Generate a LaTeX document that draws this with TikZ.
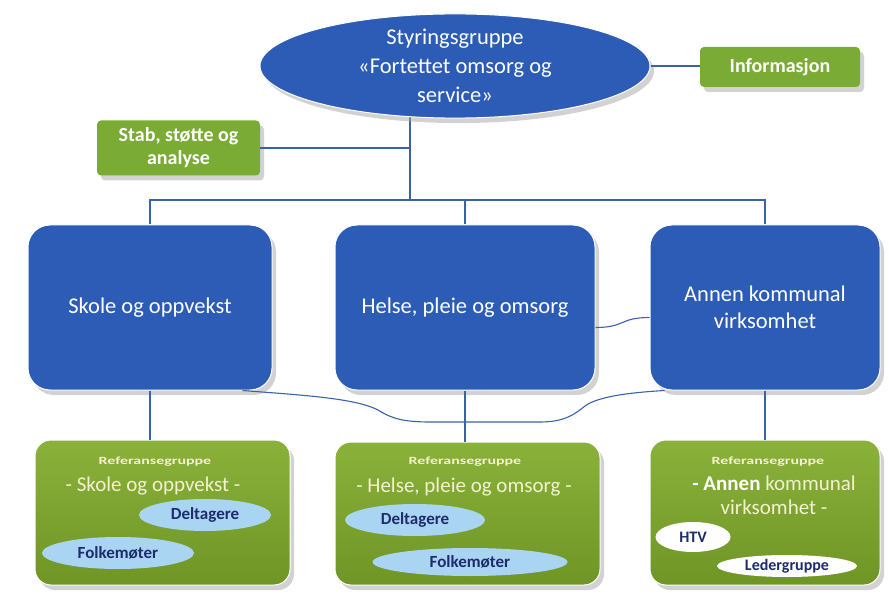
\documentclass[tikz,border=0pt]{standalone}
\usepackage{fontspec}
\setmainfont{Carlito}
\usetikzlibrary{shapes.geometric,shadows,calc,backgrounds}
\definecolor{bluebox}{HTML}{2C5CB6}
\definecolor{linec}{HTML}{3A62A8}
\definecolor{greentop}{HTML}{8AB23A}
\definecolor{greenbot}{HTML}{6F9526}
\definecolor{greensmall}{HTML}{7AAB35}
\definecolor{ovalblue}{HTML}{A9D5F2}
\definecolor{navy}{HTML}{1E2C6E}
\definecolor{cream}{HTML}{F3F1CF}
\begin{document}
\begin{tikzpicture}[x=1pt,y=-1pt,
  conn/.style={draw=linec, line width=1.1pt},
  shadowed/.style={drop shadow={shadow xshift=4pt, shadow yshift=-5pt, fill=black!35, opacity=0.5}},
  bluerect/.style={shadowed, rectangle, rounded corners=22pt, fill=bluebox, draw=white, line width=1pt,
    text=white, align=center, font=\fontsize{22.5}{27}\selectfont, inner sep=0pt},
  greenrect/.style={shadowed, rectangle, rounded corners=16pt, top color=greentop, bottom color=greenbot,
    draw=white, line width=1pt, inner sep=0pt},
  smallgreen/.style={shadowed, rectangle, rounded corners=4pt, fill=greensmall, text=white,
    align=center, font=\bfseries\fontsize{20}{23}\selectfont, inner sep=0pt},
  refhead/.style={text=cream, font=\bfseries\fontsize{11}{12}\selectfont, inner sep=0pt},
  reftitle/.style={text=cream, font=\fontsize{21}{24}\selectfont, align=center, inner sep=0pt},
  oval/.style={ellipse, fill=ovalblue, text=navy, font=\bfseries\fontsize{17}{19}\selectfont, inner sep=0pt},
  whiteoval/.style={ellipse, fill=white, text=navy, font=\bfseries\fontsize{16}{18}\selectfont, inner sep=0pt}
]
\useasboundingbox (0,0) rectangle (889,596);

% top ellipse
\node[shadowed, ellipse, fill=bluebox, draw=white, line width=1pt, minimum width=390pt, minimum height=100pt,
  text=white, align=center, font=\fontsize{22.5}{29}\selectfont, inner sep=0pt] (e) at (455,66)
  {Styringsgruppe\\«Fortettet omsorg og\\service»};

\node[smallgreen, minimum width=160pt, minimum height=40pt] (info) at (780,67) {Informasjon};
\node[smallgreen, minimum width=163pt, minimum height=55pt] (stab) at (178.5,148) {Stab, støtte og\\analyse};

% blue boxes
\node[bluerect, minimum width=244pt, minimum height=165pt] (b1) at (150,307.5) {Skole og oppvekst};
\node[bluerect, minimum width=260pt, minimum height=165pt] (b2) at (465,307.5) {Helse, pleie og omsorg};
\node[bluerect, minimum width=230pt, minimum height=165pt] (b3) at (765,307.5) {Annen kommunal\\virksomhet};

% green boxes
\node[greenrect, minimum width=255pt, minimum height=145pt] (g1) at (162.5,512.5) {};
\node[greenrect, minimum width=265pt, minimum height=143pt] (g2) at (467.5,513.5) {};
\node[greenrect, minimum width=230pt, minimum height=145pt] (g3) at (765,512.5) {};

\node[refhead] (h1) at (155,462) {\scalebox{1.45}[1]{Referansegruppe}};
\node[reftitle] (t1) at (153,486) {- Skole og oppvekst -};
\node[refhead] (h2) at (465,462) {\scalebox{1.45}[1]{Referansegruppe}};
\node[reftitle] (t2) at (464,487) {- Helse, pleie og omsorg -};
\node[refhead] (h3) at (768,462) {\scalebox{1.45}[1]{Referansegruppe}};
\node[reftitle] (t3) at (774,495) {{\bfseries\color{white}- Annen} kommunal\\virksomhet -};

% ovals
\node[oval, minimum width=132pt, minimum height=32pt] (d1) at (205,515) {Deltagere};
\node[oval, minimum width=152pt, minimum height=32pt] (f1) at (118,553) {Folkemøter};
\node[oval, minimum width=140pt, minimum height=32pt] (d2) at (415,520) {Deltagere};
\node[oval, minimum width=195pt, minimum height=28pt] (f2) at (470,562) {Folkemøter};
\node[whiteoval, minimum width=75pt, minimum height=30pt] (htv) at (693,537) {HTV};
\node[whiteoval, minimum width=140pt, minimum height=22pt] (lg) at (787,566) {Ledergruppe};

% connectors
\coordinate (j) at (410,200);
\begin{pgfonlayer}{background}
\draw[conn] (e.center -| j) -- (j);
\end{pgfonlayer}
\draw[conn] (e.east) -- (e.east -| info.west);
\draw[conn] (stab.east) -- (stab.east -| j);
\draw[conn] (b1.north) |- (j);
\draw[conn] (j) -| (b3.north);
\draw[conn] (b2.north) -- (b2.north |- j);
\draw[conn] (b1.south) -- (b1.south |- g1.north);
\draw[conn] (b2.south) -- (b2.south |- g2.north);
\draw[conn] (b3.south) -- (b3.south |- g3.north);
\draw[conn] ([yshift=-20pt]b2.east) .. controls +(30,0) and +(-30,0) .. ([yshift=-10pt]b3.west);
\draw[conn] ([xshift=-30pt]b1.south east) .. controls (300,395) and (355,398) .. (378,410)
  .. controls (392,419) and (405,422) .. (430,422) -- (540,422)
  .. controls (565,422) and (575,414) .. (585,406)
  .. controls (600,395) and (640,392) .. ([xshift=15pt]b3.south west);
\end{tikzpicture}
\end{document}
